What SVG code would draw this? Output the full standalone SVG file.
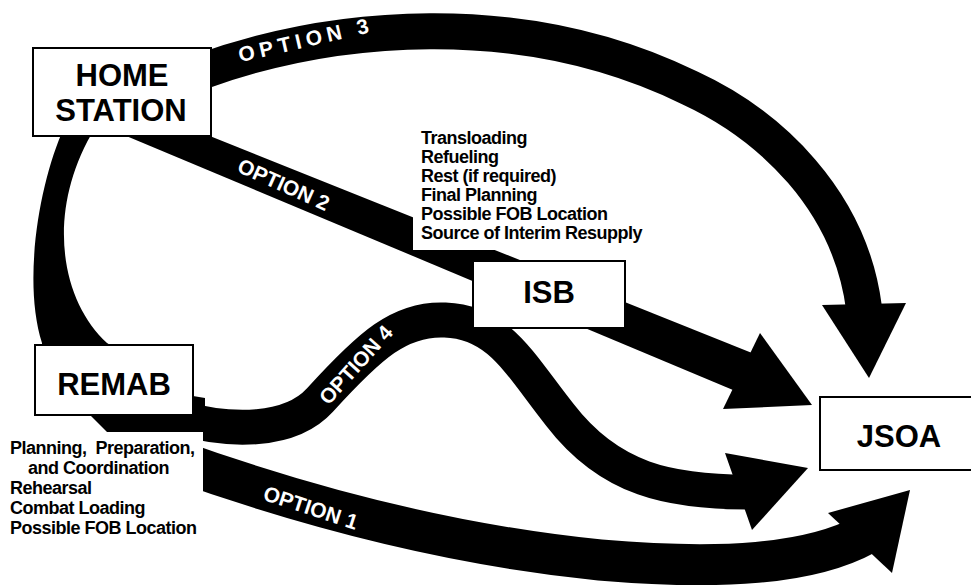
<svg xmlns="http://www.w3.org/2000/svg" width="971" height="587" viewBox="0 0 971 587">
<style>
.band{fill:none;stroke:#000;stroke-linecap:butt}
.fill{fill:#000}
.box{fill:#fff;stroke:#000;stroke-width:2}
.bg{fill:#fff}
.lbl{font-family:"Liberation Sans",Arial,sans-serif;font-weight:bold;font-size:31px;fill:#000;text-anchor:middle}
.note{font-family:"Liberation Sans",Arial,sans-serif;font-weight:bold;font-size:18px;letter-spacing:-0.5px;fill:#000;white-space:pre}
.opt{font-family:"Liberation Sans",Arial,sans-serif;font-weight:bold;font-size:21px;fill:#fff;text-anchor:middle}
</style>
<rect width="971" height="587" fill="#fff"/>
<g id="connectors">
  <path id="option3" class="band" stroke-width="36" d="M 200 72 C 330 25, 520 5, 690 88 C 770 125, 850 200, 864 308"/>
  <polygon class="fill" points="822,305 906,303 869,378"/>
  <polygon id="option2" class="fill" points="120,100 752,353 733,390 100,125"/>
  <polygon class="fill" points="760,333 812,405 723,409"/>
  <path id="trunk" class="fill" d="M 64 128 C 40 180, 22 280, 42 343 L 42 390 L 90 415 L 107 432 L 205 432 L 205 398 L 193 396 L 107 343 C 60 300, 45 210, 95 128 Z"/>
  <path id="option4" class="band" stroke-width="35" d="M 180 418 C 230 432, 290 433, 320 400 C 370 345, 400 318, 445 320 C 500 322, 520 365, 560 415 C 610 480, 670 492, 748 492"/>
  <polygon class="fill" points="725,453 808,468 752,530"/>
  <path id="option1" class="band" stroke-width="41" d="M 170 458 C 300 505, 450 545, 600 560 C 720 570, 810 565, 866 534"/>
  <polygon class="fill" points="828,513 910,490 892,573"/>
  <text class="opt" transform="translate(306,40) rotate(-13)" y="7" letter-spacing="5">OPTION 3</text>
  <text class="opt" transform="translate(284,184) rotate(24)" y="8" font-size="22">OPTION 2</text>
  <text class="opt" transform="translate(356,365) rotate(-48)" y="7">OPTION 4</text>
  <text class="opt" transform="translate(311,507) rotate(18)" y="8" font-size="22">OPTION 1</text>
</g>
<g id="isb-notes">
  <rect class="bg" x="413" y="125" width="235" height="125"/>
  <text class="note" x="421" y="144">Transloading</text>
  <text class="note" x="421" y="163">Refueling</text>
  <text class="note" x="421" y="182">Rest (if required)</text>
  <text class="note" x="421" y="201">Final Planning</text>
  <text class="note" x="421" y="220">Possible FOB Location</text>
  <text class="note" x="421" y="239">Source of Interim Resupply</text>
</g>
<g id="remab-notes">
  <rect class="bg" x="0" y="432" width="203" height="115"/>
  <text class="note" x="10" y="454">Planning,  Preparation,</text>
  <text class="note" x="28" y="474">and Coordination</text>
  <text class="note" x="10" y="494">Rehearsal</text>
  <text class="note" x="10" y="514">Combat Loading</text>
  <text class="note" x="10" y="534">Possible FOB Location</text>
</g>
<g id="home-station">
  <rect class="box" x="33" y="48" width="178" height="88"/>
  <text class="lbl" x="122" y="86">HOME</text>
  <text class="lbl" x="121" y="121">STATION</text>
</g>
<g id="remab">
  <rect class="box" x="35" y="345" width="158" height="70"/>
  <text class="lbl" x="114" y="395">REMAB</text>
</g>
<g id="isb">
  <rect class="box" x="473" y="261" width="152" height="67"/>
  <text class="lbl" x="549" y="303">ISB</text>
</g>
<g id="jsoa">
  <rect class="box" x="820" y="397" width="160" height="73"/>
  <text class="lbl" x="899" y="447">JSOA</text>
</g>
</svg>
